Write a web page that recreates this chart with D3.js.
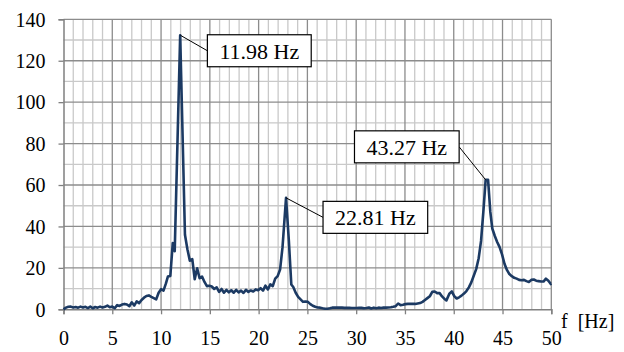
<!DOCTYPE html>
<html>
<head>
<meta charset="utf-8">
<script src="https://cdn.jsdelivr.net/npm/d3@7"></script>
<style>
  html, body { margin: 0; padding: 0; background: #ffffff; }
  svg { display: block; }
</style>
</head>
<body>
<svg id="chart" width="624" height="352"></svg>
<script>
// ---- data ----
const freqs = [
  0.00, 0.25, 0.50, 0.75, 1.00, 1.25, 1.50, 1.75, 2.00, 2.25, 2.50, 2.75, 3.00, 3.25, 3.50, 3.75,
  4.00, 4.25, 4.50, 4.75, 5.00, 5.25, 5.50, 5.75, 6.00, 6.25, 6.50, 6.75, 7.00, 7.25, 7.50, 7.75,
  8.00, 8.25, 8.50, 8.75, 9.00, 9.25, 9.50, 9.75, 10.00, 10.25, 10.50, 10.70, 10.95, 11.20, 11.40,
  11.96, 12.45, 12.70, 12.95, 13.20, 13.45, 13.70, 13.95, 14.20, 14.45, 14.70, 14.95, 15.20, 15.45,
  15.70, 15.95, 16.20, 16.45, 16.70, 16.95, 17.20, 17.45, 17.70, 17.95, 18.20, 18.45, 18.70, 18.95,
  19.20, 19.45, 19.70, 19.95, 20.20, 20.45, 20.70, 20.95, 21.20, 21.45, 21.70, 21.95, 22.20, 22.45,
  22.81, 23.10, 23.35, 23.55, 23.80, 24.05, 24.30, 24.55, 24.80, 25.05, 25.30, 25.55, 25.80, 26.05,
  26.30, 26.55, 26.80, 27.05, 27.30, 27.55, 27.80, 28.05, 28.30, 28.55, 28.80, 29.05, 29.30, 29.55,
  29.80, 30.05, 30.30, 30.55, 30.80, 31.05, 31.30, 31.55, 31.80, 32.05, 32.30, 32.55, 32.80, 33.05,
  33.30, 33.55, 33.80, 34.05, 34.30, 34.55, 34.80, 35.05, 35.30, 35.55, 35.80, 36.05, 36.30, 36.55,
  36.80, 37.05, 37.30, 37.55, 37.80, 38.05, 38.30, 38.55, 38.80, 39.05, 39.25, 39.55, 39.80, 40.05,
  40.30, 40.55, 40.80, 41.05, 41.30, 41.55, 41.80, 42.05, 42.30, 42.55, 42.80, 43.05, 43.27, 43.52,
  43.75, 43.95, 44.20, 44.45, 44.70, 44.95, 45.20, 45.45, 45.70, 45.95, 46.20, 46.45, 46.70, 46.95,
  47.20, 47.45, 47.70, 47.95, 48.20, 48.45, 48.70, 48.95, 49.20, 49.45, 49.70, 49.95, 50.00
];
const amps = [
  0.0, 0.8, 1.2, 1.3, 0.9, 1.1, 0.8, 1.3, 0.9, 1.2, 0.6, 1.3, 0.5, 1.1, 0.8, 1.3,
  0.9, 1.2, 1.8, 1.0, 1.3, 0.5, 2.0, 1.6, 2.3, 2.6, 2.3, 1.5, 3.4, 1.8, 3.8, 3.0,
  4.5, 5.6, 6.4, 6.7, 6.0, 5.4, 4.8, 8.0, 9.7, 9.0, 12.5, 15.8, 16.1, 32.0, 28.0,
  132.3, 36.0, 29.0, 23.5, 24.2, 14.5, 19.8, 15.0, 15.8, 13.2, 11.2, 11.4, 11.0, 9.8,
  10.6, 8.4, 9.8, 8.0, 9.4, 8.2, 9.2, 8.0, 9.4, 8.2, 9.0, 7.9, 9.4, 8.4,
  9.1, 8.6, 9.6, 9.2, 10.2, 9.0, 11.4, 9.6, 12.0, 11.2, 14.8, 16.0, 19.2, 30.0,
  53.8, 33.0, 12.0, 10.8, 8.0, 6.0, 4.8, 3.6, 3.8, 3.6, 2.5, 1.7, 1.2, 0.9,
  0.8, 0.5, 0.3, 0.3, 0.5, 0.8, 0.8, 0.8, 0.8, 0.8, 0.7, 0.7, 0.7, 0.6,
  0.6, 0.6, 0.7, 0.7, 0.5, 0.6, 0.9, 0.4, 0.8, 0.5, 0.8, 0.6, 0.8, 0.8,
  0.9, 1.0, 1.2, 1.5, 2.8, 2.0, 2.2, 2.5, 2.6, 2.6, 2.6, 2.6, 2.8, 3.0,
  3.6, 4.5, 5.4, 6.3, 8.4, 8.6, 7.8, 7.8, 6.2, 5.0, 4.3, 7.5, 8.6, 6.4,
  5.2, 5.8, 6.6, 7.6, 8.8, 10.6, 13.0, 16.2, 19.4, 24.5, 33.0, 48.0, 62.5, 62.5,
  47.0, 39.0, 35.5, 32.5, 30.0, 26.5, 22.0, 19.0, 17.0, 16.0, 15.2, 14.8, 14.2, 14.0,
  14.2, 13.6, 13.2, 14.2, 14.4, 13.8, 13.6, 13.4, 13.4, 14.8, 13.8, 12.2, 12.4
];
const xTicks = [0, 5, 10, 15, 20, 25, 30, 35, 40, 45, 50];
const yTicks = [0, 20, 40, 60, 80, 100, 120, 140];
const xMinor = [1,2,3,4,6,7,8,9,11,12,13,14,16,17,18,19,21,22,23,24,26,27,28,29,31,32,33,34,36,37,38,39,41,42,43,44,46,47,48,49];
const yMinor = [10, 30, 50, 70, 90, 110, 130];
const peakFreqs = [11.98, 22.81, 43.27];
const peakAmps = [132.3, 53.8, 62.5];
const peakLabels = ["11.98 Hz", "22.81 Hz", "43.27 Hz"];
const xTitle = "f  [Hz]";

// ---- layout ----
const svg = d3.select("#chart");
const x = d3.scaleLinear().domain([0, 50]).range([63.5, 551.3]);
const y = d3.scaleLinear().domain([0, 140]).range([309.3, 19.3]);
const FONT = "'Liberation Serif', 'Times New Roman', serif";

const grid = svg.append("g");
// minor grid
grid.selectAll("line.vmin").data(xMinor).join("line")
  .attr("x1", d => x(d)).attr("x2", d => x(d))
  .attr("y1", y(0)).attr("y2", y(140))
  .attr("stroke", "#c9c9c9").attr("stroke-width", 1.3);
grid.selectAll("line.hmin").data(yMinor).join("line")
  .attr("x1", x(0)).attr("x2", x(50))
  .attr("y1", d => y(d)).attr("y2", d => y(d))
  .attr("stroke", "#c9c9c9").attr("stroke-width", 1.3);
// major grid
grid.selectAll("line.vmaj").data(xTicks.filter(d => d > 0)).join("line")
  .attr("x1", d => x(d)).attr("x2", d => x(d))
  .attr("y1", y(0)).attr("y2", y(140))
  .attr("stroke", "#8c8c8c").attr("stroke-width", 1.3);
grid.selectAll("line.hmaj").data(yTicks.filter(d => d > 0)).join("line")
  .attr("x1", x(0)).attr("x2", x(50))
  .attr("y1", d => y(d)).attr("y2", d => y(d))
  .attr("stroke", "#8c8c8c").attr("stroke-width", 1.3);

// axes
const xAxis = d3.axisBottom(x).tickValues(xTicks).tickSize(5).tickPadding(17).tickFormat(d3.format("d"));
const yAxis = d3.axisLeft(y).tickValues(yTicks).tickSize(5).tickPadding(13).tickFormat(d3.format("d"));
const gx = svg.append("g").attr("transform", `translate(0,${y(0)})`).call(xAxis);
const gy = svg.append("g").attr("transform", `translate(${x(0)},0)`).call(yAxis);
[gx, gy].forEach(g => {
  g.select(".domain").attr("stroke", "#808080").attr("stroke-width", 1.5);
  g.selectAll(".tick line").attr("stroke", "#808080").attr("stroke-width", 1.3);
  g.selectAll("text").attr("fill", "#000").style("font-family", FONT).style("font-size", "20px");
});
gy.selectAll("text").attr("dy", "0.34em");

// axis title
svg.append("text")
  .attr("x", 561).attr("y", 328)
  .attr("font-family", FONT).attr("font-size", 20).attr("fill", "#000")
  .attr("xml:space", "preserve").style("white-space", "pre")
  .text(xTitle);

// data line
const line = d3.line().x((d, i) => x(freqs[i])).y(d => y(d));
svg.append("path")
  .datum(amps)
  .attr("d", line)
  .attr("fill", "none")
  .attr("stroke", "#1c3a63")
  .attr("stroke-width", 2.6)
  .attr("stroke-linejoin", "round");

// annotations
const annLayout = [
  { dx: 27, dy: 15.5, side: "left" },
  { dx: 37, dy: 19.5, side: "left" },
  { dx: -26.5, dy: -33, side: "right" }
];
const boxH = 32, padX = 12;
peakLabels.forEach((lab, i) => {
  const px = x(peakFreqs[i]), py = y(peakAmps[i]);
  const L = annLayout[i];
  const g = svg.append("g");
  const t = g.append("text")
    .attr("font-family", FONT).attr("font-size", 22).attr("fill", "#000")
    .text(lab);
  const w = t.node().getComputedTextLength() + 2 * padX;
  const cy = py + L.dy;
  const bx = L.side === "left" ? px + L.dx : px + L.dx - w;
  const ax = L.side === "left" ? bx : bx + w;
  g.insert("line", "text")
    .attr("x1", px).attr("y1", py).attr("x2", ax).attr("y2", cy)
    .attr("stroke", "#000").attr("stroke-width", 1);
  g.insert("rect", "text")
    .attr("x", bx).attr("y", cy - boxH / 2).attr("width", w).attr("height", boxH)
    .attr("fill", "#fff").attr("stroke", "#000").attr("stroke-width", 1.2);
  t.attr("x", bx + padX).attr("y", cy + 7.8);
});
</script>
</body>
</html>
